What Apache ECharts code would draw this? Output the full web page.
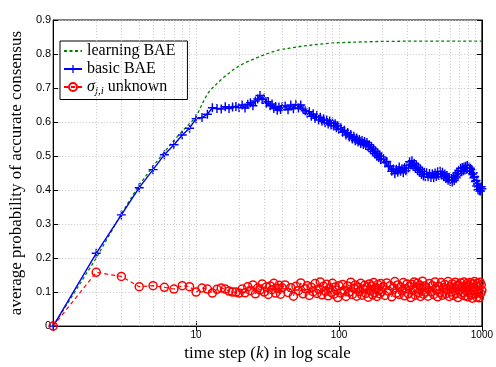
<!DOCTYPE html>
<html>
<head>
<meta charset="utf-8">
<script src="https://cdn.jsdelivr.net/npm/echarts@6/dist/echarts.min.js"></script>
<style>
  html, body { margin: 0; padding: 0; background: #fff; }
  #chart { width: 496px; height: 367px; }
</style>
</head>
<body>
<div id="chart"></div>
<script>
// time steps (shared by basic BAE and sigma unknown)
const steps = [
  1, 2, 3, 4, 5, 6, 7, 8, 9, 10, 11, 12, 13, 14, 15, 16, 17, 18, 19, 20,
  21, 22, 23, 24, 25, 26, 27, 28, 29, 30, 31, 32, 33, 34, 35, 36, 37, 38, 39, 40,
  42, 44, 46, 48, 50, 52, 54, 56, 58, 60, 62, 64, 66, 68, 70, 72, 74, 76, 78, 80, 82, 84, 86, 88, 90, 92, 94, 96, 98, 100,
  103, 106, 109, 112, 115, 118, 121, 124, 127, 130, 133, 136, 139, 142, 145, 148, 151, 154, 157, 160, 163, 166, 169, 172, 175, 178, 181, 184, 187, 190, 193, 196, 199,
  204, 210, 216, 222, 228, 234, 240, 246, 252, 258, 264, 270, 276, 282, 288, 294, 300, 306, 312, 318, 324, 330, 336, 342, 348, 354, 360, 366, 372, 378, 384, 390, 396, 402,
  410, 420, 430, 440, 450, 460, 470, 480, 490, 500, 510, 520, 530, 540, 550, 560, 570, 580, 590, 600,
  610, 620, 630, 640, 650, 660, 670, 680, 690, 700, 710, 720, 730, 740, 750, 760, 770, 780, 790, 800,
  810, 820, 830, 840, 850, 860, 870, 880, 890, 900, 910, 920, 930, 940, 950, 960, 970, 980, 990, 1000
];

const basicValues = [
  0, 0.214, 0.327, 0.407, 0.46, 0.504, 0.533, 0.562, 0.582, 0.61, 0.613, 0.623, 0.642, 0.640, 0.638, 0.645, 0.640, 0.644, 0.646, 0.643,
  0.650, 0.641, 0.652, 0.657, 0.648, 0.662, 0.668, 0.678, 0.666, 0.671, 0.655, 0.660, 0.648, 0.653, 0.640, 0.646, 0.635, 0.644, 0.637, 0.645,
  0.647, 0.636, 0.650, 0.639, 0.652, 0.641, 0.650, 0.638, 0.633, 0.626, 0.630, 0.617, 0.624, 0.611, 0.619, 0.606, 0.614, 0.602, 0.610, 0.598,
  0.606, 0.594, 0.603, 0.591, 0.600, 0.588, 0.595, 0.583, 0.589, 0.578,
  0.583, 0.570, 0.576, 0.562, 0.569, 0.556, 0.563, 0.550, 0.558, 0.545, 0.553, 0.541, 0.549, 0.537, 0.546, 0.534, 0.543, 0.531, 0.540, 0.527,
  0.533, 0.519, 0.527, 0.513, 0.521, 0.507, 0.514, 0.500, 0.508, 0.495, 0.503, 0.489, 0.497,
  0.491, 0.480, 0.484, 0.469, 0.471, 0.455, 0.462, 0.448, 0.461, 0.452, 0.468, 0.455, 0.463, 0.451, 0.466, 0.457, 0.472, 0.465, 0.483, 0.474,
  0.486, 0.470, 0.479, 0.464, 0.474, 0.458, 0.467, 0.452, 0.461, 0.446, 0.455, 0.441, 0.452, 0.440,
  0.451, 0.439, 0.449, 0.437, 0.448, 0.436, 0.450, 0.440, 0.454, 0.443, 0.455, 0.444, 0.452, 0.439, 0.447, 0.434, 0.443, 0.429, 0.438, 0.425,
  0.434, 0.424, 0.437, 0.428, 0.443, 0.435, 0.451, 0.443, 0.458, 0.449, 0.464, 0.455, 0.466, 0.457, 0.468, 0.459, 0.470, 0.461, 0.472, 0.462,
  0.468, 0.457, 0.464, 0.452, 0.460, 0.447, 0.451, 0.436, 0.440, 0.425, 0.428, 0.412, 0.418, 0.401, 0.409, 0.398, 0.406, 0.397, 0.410, 0.404
];

const unknownValues = [
  0, 0.158, 0.146, 0.116, 0.119, 0.114, 0.109, 0.119, 0.116, 0.100, 0.112, 0.109, 0.097, 0.108, 0.112, 0.109, 0.103, 0.100, 0.100, 0.097,
  0.109, 0.098, 0.116, 0.104, 0.121, 0.095, 0.112, 0.106, 0.124, 0.100, 0.115, 0.093, 0.118, 0.107, 0.126, 0.097, 0.111, 0.120, 0.094, 0.113,
  0.121, 0.099, 0.113, 0.088, 0.117, 0.104, 0.127, 0.095, 0.110, 0.119, 0.090, 0.114, 0.101, 0.125, 0.096, 0.108, 0.130, 0.092, 0.117, 0.103,
  0.123, 0.089, 0.112, 0.099, 0.126, 0.094, 0.115, 0.106, 0.084, 0.119,
  0.097, 0.122, 0.105, 0.087, 0.118, 0.100, 0.129, 0.093, 0.111, 0.121, 0.088, 0.114, 0.102, 0.126, 0.091, 0.109, 0.120, 0.096, 0.115, 0.085,
  0.124, 0.104, 0.118, 0.092, 0.128, 0.099, 0.113, 0.087, 0.122, 0.106, 0.095, 0.125, 0.101,
  0.116, 0.090, 0.127, 0.103, 0.119, 0.086, 0.112, 0.131, 0.097, 0.121, 0.093, 0.115, 0.104, 0.128, 0.089, 0.110, 0.124, 0.095, 0.117, 0.084,
  0.122, 0.106, 0.130, 0.091, 0.113, 0.126, 0.098, 0.120, 0.087, 0.115, 0.132, 0.094, 0.118, 0.100,
  0.112, 0.088, 0.125, 0.101, 0.119, 0.093, 0.130, 0.106, 0.086, 0.117, 0.098, 0.128, 0.091, 0.113, 0.122, 0.095, 0.108, 0.131, 0.087, 0.116,
  0.100, 0.124, 0.090, 0.111, 0.129, 0.096, 0.118, 0.084, 0.121, 0.105, 0.127, 0.093, 0.114, 0.099, 0.130, 0.089, 0.117, 0.103, 0.125, 0.086,
  0.120, 0.097, 0.128, 0.092, 0.113, 0.082, 0.124, 0.107, 0.131, 0.094, 0.118, 0.085, 0.126, 0.101, 0.115, 0.083, 0.129, 0.096, 0.121, 0.105
];

// learning BAE is smooth, fewer samples
const learningSteps = [1, 2, 3, 4, 5, 6, 7, 8, 9, 10, 11, 12, 13, 14, 15, 16, 18, 20, 22, 24, 27, 30, 33, 38, 45, 55, 70, 95, 130, 200, 350, 600, 1000];
const learningValues = [0, 0.20, 0.33, 0.415, 0.47, 0.512, 0.546, 0.573, 0.595, 0.615, 0.652, 0.683, 0.70, 0.713, 0.725, 0.735, 0.752, 0.765, 0.774, 0.781, 0.79, 0.798, 0.804, 0.812, 0.817, 0.823, 0.828, 0.833, 0.835, 0.837, 0.838, 0.838, 0.838];

// dotted grid positions on the log axis
const minorGridX = [2, 3, 4, 5, 6, 7, 8, 9, 10, 20, 30, 40, 50, 60, 70, 80, 90, 100, 200, 300, 400, 500, 600, 700, 800, 900];

const serif = 'Liberation Serif';
const sans = 'Liberation Sans';

const chart = echarts.init(document.getElementById('chart'));

// plus marker, a bit heavier arms so the dense part reads as a band
const plusSymbol = 'path://M4.2,0H5.8V10H4.2ZM0,4.2H10V5.8H0Z';

const option = {
  animation: false,
  grid: { left: 46, right: 8, top: 20, bottom: 38, show: true, borderColor: '#000', borderWidth: 1 },
  legend: {
    orient: 'vertical',
    left: 60,
    top: 41,
    data: [
      { name: 'learning BAE', itemStyle: { opacity: 0 } },
      'basic BAE',
      'σ unknown'
    ],
    itemWidth: 18,
    itemHeight: 10,
    itemGap: 2,
    padding: [2, 12, 3, 3],
    borderColor: '#000',
    borderWidth: 1,
    backgroundColor: '#fff',
    textStyle: {
      fontFamily: serif, fontSize: 16, color: '#000',
      rich: {
        n: { fontFamily: serif, fontSize: 16, color: '#000' },
        it: { fontFamily: serif, fontSize: 16, fontStyle: 'italic', color: '#000' },
        sub: { fontFamily: serif, fontSize: 11, fontStyle: 'italic', color: '#000', padding: [8, 0, 0, 0] }
      }
    },
    formatter: function (name) {
      if (name === 'σ unknown') {
        return '{it|σ}{sub|j,i}{n| unknown}';
      }
      return name;
    }
  },
  xAxis: [
    {
      type: 'log',
      logBase: 10,
      min: 1,
      max: 1000,
      name: 'time step ({it|k}) in log scale',
      nameLocation: 'middle',
      nameGap: 15,
      nameTextStyle: {
        fontFamily: serif, fontSize: 17, color: '#000',
        rich: { it: { fontFamily: serif, fontSize: 17, fontStyle: 'italic', color: '#000' } }
      },
      axisLine: { show: true, lineStyle: { color: '#000' } },
      axisTick: { inside: true, length: 5, lineStyle: { color: '#000' } },
      axisLabel: {
        fontFamily: sans, fontSize: 10, color: '#000', margin: 4,
        alignMaxLabel: 'center',
        formatter: function (v) { return v === 1 ? '' : String(v); }
      },
      splitLine: { show: false }
    },
    {
      type: 'log',
      logBase: 10,
      min: 1,
      max: 1000,
      position: 'top',
      axisLine: { show: true, lineStyle: { color: '#000' } },
      axisTick: { inside: true, length: 5, lineStyle: { color: '#000' } },
      axisLabel: { show: false },
      splitLine: { show: false }
    }
  ],
  yAxis: [
    {
      type: 'value',
      min: 0,
      max: 0.9,
      interval: 0.1,
      name: 'average probability of accurate consensus',
      nameLocation: 'middle',
      nameGap: 25,
      nameTextStyle: { fontFamily: serif, fontSize: 17, color: '#000' },
      axisLine: { show: true, lineStyle: { color: '#000' } },
      axisTick: { inside: true, length: 5, lineStyle: { color: '#000' } },
      axisLabel: {
        fontFamily: sans, fontSize: 11, color: '#000', margin: 2,
        formatter: function (v) { return v === 0 ? '0' : v.toFixed(1); }
      },
      splitLine: { show: true, lineStyle: { color: '#c8c8c8', type: [1, 2], width: 1 } }
    },
    {
      type: 'value',
      min: 0,
      max: 0.9,
      interval: 0.1,
      position: 'right',
      axisLine: { show: true, lineStyle: { color: '#000' } },
      axisTick: { inside: true, length: 5, lineStyle: { color: '#000' } },
      axisLabel: { show: false },
      splitLine: { show: false }
    }
  ],
  series: [
    {
      name: 'grid',
      type: 'line',
      z: 1,
      data: [],
      silent: true,
      markLine: {
        silent: true,
        symbol: ['none', 'none'],
        label: { show: false },
        lineStyle: { color: '#c8c8c8', type: [1, 2], width: 1 },
        data: minorGridX.map(function (x) { return { xAxis: x }; })
      }
    },
    {
      name: 'learning BAE',
      type: 'line',
      z: 3,
      data: learningSteps.map(function (k, i) { return [k, learningValues[i]]; }),
      symbol: 'none',
      color: '#008000',
      itemStyle: { opacity: 0 },
      lineStyle: { color: '#008000', width: 1.3, type: [3, 2.5] }
    },
    {
      name: 'basic BAE',
      type: 'line',
      z: 4,
      data: steps.map(function (k, i) { return [k, basicValues[i]]; }),
      symbol: plusSymbol,
      symbolSize: 9,
      showAllSymbol: true,
      color: '#0000ff',
      itemStyle: { color: '#0000ff' },
      lineStyle: { color: '#0000ff', width: 1.4 }
    },
    {
      name: 'σ unknown',
      type: 'line',
      z: 5,
      data: steps.map(function (k, i) { return [k, unknownValues[i]]; }),
      symbol: 'circle',
      symbolSize: 8,
      showAllSymbol: true,
      color: '#ff0000',
      itemStyle: { color: 'rgba(255,255,255,0)', borderColor: '#ff0000', borderWidth: 1.5 },
      lineStyle: { color: '#ff0000', width: 1.2, type: [4, 3] }
    }
  ]
};

chart.setOption(option);
</script>
</body>
</html>
